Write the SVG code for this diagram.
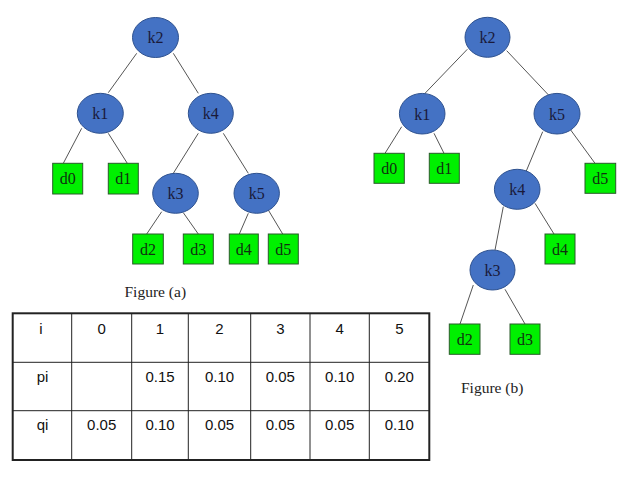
<svg xmlns="http://www.w3.org/2000/svg" width="638" height="478" viewBox="0 0 638 478">
<style>
.k ellipse{fill:#4472c4;stroke:#2f528f;stroke-width:1}
.d rect{fill:#00f000;stroke:#2a5a2a;stroke-width:1}
.lbl{font-family:"Liberation Serif",serif;font-size:16px;fill:#1a1a3a;text-anchor:middle}
.dl{font-family:"Liberation Serif",serif;font-size:16px;fill:#103010;text-anchor:middle}
.cap{font-family:"Liberation Serif",serif;font-size:15.5px;fill:#222}
.edges line{stroke:#555;stroke-width:1}
.tbl{fill:none;stroke:#222}
.tt{font-family:"Liberation Sans",Arial,sans-serif;font-size:15px;fill:#111;text-anchor:middle}
</style>
<rect width="638" height="478" fill="#fff"/>
<g id="edges-a" class="edges">
<line x1="136.7" y1="53.3" x2="108.3" y2="92.7"/>
<line x1="173.3" y1="53.3" x2="198.3" y2="93.3"/>
<line x1="81.7" y1="128.3" x2="63.3" y2="163.3"/>
<line x1="108.3" y1="133.3" x2="127.3" y2="163.3"/>
<line x1="198.3" y1="133.3" x2="173.3" y2="173.3"/>
<line x1="223.3" y1="133.3" x2="248.3" y2="173.3"/>
<line x1="161.7" y1="211.7" x2="146.7" y2="234"/>
<line x1="183.3" y1="212.7" x2="198.3" y2="234"/>
<line x1="248.3" y1="213.3" x2="239.3" y2="234"/>
<line x1="268.3" y1="210" x2="282.7" y2="234"/>
</g>
<g id="edges-b" class="edges">
<line x1="467.3" y1="49.3" x2="425" y2="93.3"/>
<line x1="506.7" y1="50.7" x2="550.7" y2="97.3"/>
<line x1="401.7" y1="126.7" x2="385" y2="153.3"/>
<line x1="434" y1="133.3" x2="444" y2="153.3"/>
<line x1="542.7" y1="131.7" x2="526" y2="171.7"/>
<line x1="570.7" y1="130" x2="595" y2="163.3"/>
<line x1="503.3" y1="206.7" x2="495" y2="250"/>
<line x1="535" y1="203.3" x2="554" y2="234"/>
<line x1="473.3" y1="285" x2="460" y2="324"/>
<line x1="505" y1="289.3" x2="525" y2="324"/>
</g>
<!-- Figure (a) nodes -->
<g id="a-k2" class="k"><ellipse cx="155.5" cy="37.5" rx="23" ry="20"/><text class="lbl" x="155.5" y="43">k2</text></g>
<g id="a-k1" class="k"><ellipse cx="100.3" cy="113.3" rx="23" ry="20"/><text class="lbl" x="100.3" y="119">k1</text></g>
<g id="a-k4" class="k"><ellipse cx="210.8" cy="113.3" rx="22.5" ry="20"/><text class="lbl" x="210.8" y="119">k4</text></g>
<g id="a-k3" class="k"><ellipse cx="175.5" cy="193.3" rx="22.8" ry="20"/><text class="lbl" x="175.5" y="199">k3</text></g>
<g id="a-k5" class="k"><ellipse cx="256.7" cy="193.3" rx="22.7" ry="20"/><text class="lbl" x="256.7" y="199">k5</text></g>
<g id="a-d0" class="d"><rect x="52.7" y="163.3" width="30" height="30.7"/><text class="dl" x="67.7" y="184">d0</text></g>
<g id="a-d1" class="d"><rect x="108.3" y="163.3" width="30" height="30.7"/><text class="dl" x="123.3" y="184">d1</text></g>
<g id="a-d2" class="d"><rect x="132.7" y="234" width="30.6" height="30"/><text class="dl" x="148" y="254.5">d2</text></g>
<g id="a-d3" class="d"><rect x="183.3" y="234" width="30" height="30"/><text class="dl" x="198.3" y="254.5">d3</text></g>
<g id="a-d4" class="d"><rect x="229.3" y="234" width="29" height="30"/><text class="dl" x="243.8" y="254.5">d4</text></g>
<g id="a-d5" class="d"><rect x="268.3" y="234" width="30" height="30"/><text class="dl" x="283.3" y="254.5">d5</text></g>
<text id="cap-a" class="cap" x="124.5" y="297">Figure (a)</text>
<!-- Figure (b) nodes -->
<g id="b-k2" class="k"><ellipse cx="487.5" cy="37.3" rx="22.5" ry="20"/><text class="lbl" x="487.5" y="43">k2</text></g>
<g id="b-k1" class="k"><ellipse cx="422.2" cy="113.7" rx="22.8" ry="20.3"/><text class="lbl" x="422.2" y="119.5">k1</text></g>
<g id="b-k5" class="k"><ellipse cx="557" cy="113.7" rx="23" ry="20.3"/><text class="lbl" x="557" y="119.5">k5</text></g>
<g id="b-k4" class="k"><ellipse cx="517.2" cy="189.3" rx="22.8" ry="20"/><text class="lbl" x="517.2" y="195">k4</text></g>
<g id="b-k3" class="k"><ellipse cx="492.5" cy="270" rx="22.5" ry="20"/><text class="lbl" x="492.5" y="275.5">k3</text></g>
<g id="b-d0" class="d"><rect x="374" y="153.3" width="30.3" height="30"/><text class="dl" x="389.2" y="174">d0</text></g>
<g id="b-d1" class="d"><rect x="429.3" y="153.3" width="30" height="30"/><text class="dl" x="444.3" y="174">d1</text></g>
<g id="b-d5" class="d"><rect x="585" y="163.3" width="30.7" height="30"/><text class="dl" x="600.3" y="184">d5</text></g>
<g id="b-d4" class="d"><rect x="545" y="234" width="30" height="30"/><text class="dl" x="560" y="254.5">d4</text></g>
<g id="b-d2" class="d"><rect x="449.3" y="324" width="30.7" height="30.3"/><text class="dl" x="464.7" y="344.5">d2</text></g>
<g id="b-d3" class="d"><rect x="510" y="324" width="30" height="30.3"/><text class="dl" x="525" y="344.5">d3</text></g>
<text id="cap-b" class="cap" x="461" y="393">Figure (b)</text>
<!-- Table -->
<g id="table">
<rect class="tbl" x="12.7" y="313.3" width="416.6" height="146.7" stroke-width="2"/>
<g class="tbl" stroke-width="1">
<line x1="71.7" y1="313.3" x2="71.7" y2="460"/>
<line x1="131.7" y1="313.3" x2="131.7" y2="460"/>
<line x1="188.3" y1="313.3" x2="188.3" y2="460"/>
<line x1="250.7" y1="313.3" x2="250.7" y2="460"/>
<line x1="310" y1="313.3" x2="310" y2="460"/>
<line x1="369.3" y1="313.3" x2="369.3" y2="460"/>
<line x1="12.7" y1="362.3" x2="429.3" y2="362.3"/>
<line x1="12.7" y1="410.7" x2="429.3" y2="410.7"/>
</g>
<text class="tt" x="41" y="333.5">i</text>
<text class="tt" x="101.7" y="333.5">0</text>
<text class="tt" x="160" y="333.5">1</text>
<text class="tt" x="219.5" y="333.5">2</text>
<text class="tt" x="280.3" y="333.5">3</text>
<text class="tt" x="339.7" y="333.5">4</text>
<text class="tt" x="399.3" y="333.5">5</text>
<text class="tt" x="42.5" y="381.5">pi</text>
<text class="tt" x="160" y="381.5">0.15</text>
<text class="tt" x="219.5" y="381.5">0.10</text>
<text class="tt" x="280.3" y="381.5">0.05</text>
<text class="tt" x="339.7" y="381.5">0.10</text>
<text class="tt" x="399.3" y="381.5">0.20</text>
<text class="tt" x="42.5" y="429.5">qi</text>
<text class="tt" x="101.7" y="429.5">0.05</text>
<text class="tt" x="160" y="429.5">0.10</text>
<text class="tt" x="219.5" y="429.5">0.05</text>
<text class="tt" x="280.3" y="429.5">0.05</text>
<text class="tt" x="339.7" y="429.5">0.05</text>
<text class="tt" x="399.3" y="429.5">0.10</text>
</g>
</svg>
